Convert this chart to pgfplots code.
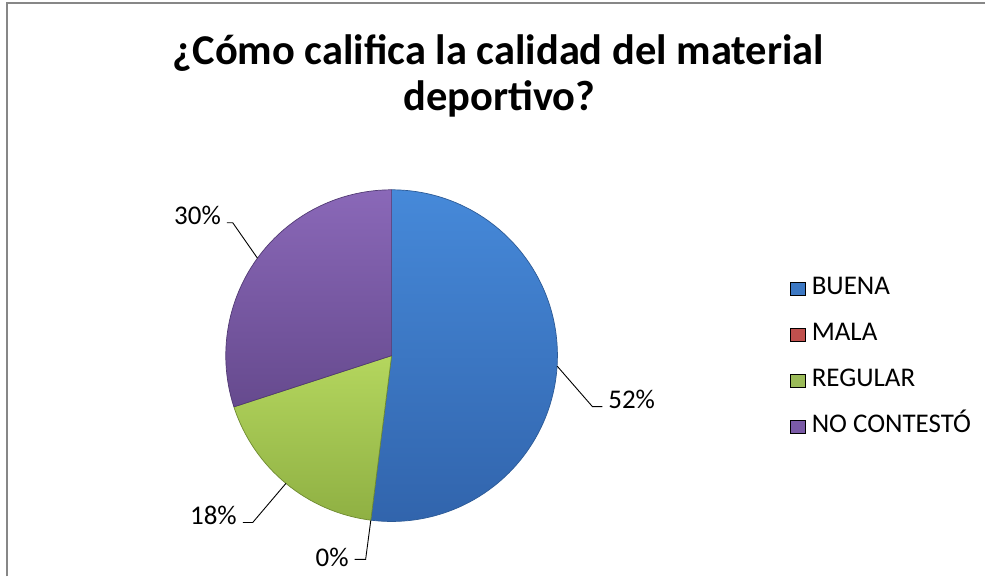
\documentclass[border=0pt]{standalone}
\usepackage{pgfplots}
\usepackage{pgfplotstable}
\usepackage{fontspec}
\setmainfont{Carlito}
\pgfplotsset{compat=1.18}

% slice colours (light top, dark bottom, edge)
\definecolor{pietop0}{HTML}{4689D9}
\definecolor{piebot0}{HTML}{3164AC}
\definecolor{pieedg0}{HTML}{2C5A96}
\definecolor{pietop1}{HTML}{D4605C}
\definecolor{piebot1}{HTML}{A43C39}
\definecolor{pieedg1}{HTML}{8E3431}
\definecolor{pietop2}{HTML}{B4D65E}
\definecolor{piebot2}{HTML}{8FB043}
\definecolor{pieedg2}{HTML}{6E8A30}
\definecolor{pietop3}{HTML}{8A68B8}
\definecolor{piebot3}{HTML}{664A8E}
\definecolor{pieedg3}{HTML}{513A73}
\definecolor{legc0}{HTML}{3C78C3}
\definecolor{legc1}{HTML}{C0504D}
\definecolor{legc2}{HTML}{9BBB59}
\definecolor{legc3}{HTML}{7A5AA6}

% value in %, leader elbow (x,y), end of leader x, text side, text dy
\pgfplotstableread{
name value elbx elby endx side dy
BUENA 52 593 170 603 west -2
MALA 0 366 17 355 east -7
REGULAR 18 253 54 243 east -2
{NO CONTESTÓ} 30 233 354 227 east -2
}\piedata

\newcommand\lblfont{\fontsize{27}{30}\selectfont}
\def\cx{392}\def\cy{221}\def\rr{166}

% build wedges and labels from the table
\gdef\piecmds{}
\gdef\angA{90}
\pgfplotstableforeachcolumnelement{value}\of\piedata\as\val{%
  \pgfmathsetmacro\angB{\angA-3.6*\val}%
  \pgfmathsetmacro\angM{(\angA+\angB)/2}%
  \pgfplotstablegetelem{\pgfplotstablerow}{elbx}\of\piedata\let\ex\pgfplotsretval
  \pgfplotstablegetelem{\pgfplotstablerow}{elby}\of\piedata\let\ey\pgfplotsretval
  \pgfplotstablegetelem{\pgfplotstablerow}{endx}\of\piedata\let\tx\pgfplotsretval
  \pgfplotstablegetelem{\pgfplotstablerow}{side}\of\piedata\let\sd\pgfplotsretval
  \pgfplotstablegetelem{\pgfplotstablerow}{dy}\of\piedata\let\dy\pgfplotsretval
  \ifdim\val pt>0pt
    \xdef\piecmds{\unexpanded\expandafter{\piecmds}%
      \noexpand\shadedraw[top color=pietop\pgfplotstablerow,
        bottom color=piebot\pgfplotstablerow,
        draw=pieedg\pgfplotstablerow, line width=0.7pt, line join=round]
        (axis cs:\cx,\cy) -- ([shift={(\angA:\rr pt)}]axis cs:\cx,\cy)
        arc[start angle=\angA, end angle=\angB, radius=\rr pt] -- cycle;}%
  \fi
  \xdef\piecmds{\unexpanded\expandafter{\piecmds}%
    \noexpand\draw[black, line width=0.9pt]
      ([shift={(\angM:\rr pt)}]axis cs:\cx,\cy) -- (axis cs:\ex,\ey)
      -- (axis cs:\tx,\ey)
      node[anchor=base \sd, inner sep=0pt, yshift=\dy pt, outer xsep=6pt]
      {\noexpand\lblfont\val\noexpand\%};}%
  \xdef\angA{\angB}%
}

\begin{document}
\begin{tikzpicture}
\begin{axis}[
  scale only axis,
  width=986pt, height=577pt,
  xmin=0, xmax=986, ymin=0, ymax=577,
  hide axis,
  clip=false,
  legend image code/.code={\fill[#1] (0pt,-6.5pt) rectangle (15pt,6.5pt);\path (21pt,0pt);},
  legend style={
    at={(axis cs:791,300)}, anchor=north west,
    draw=none, fill=none, inner sep=0pt,
    font=\lblfont, row sep=23pt,
    nodes={inner sep=0pt, text height=18pt, text depth=5pt},
  },
  legend cell align=left,
]
\path (axis cs:0,0) rectangle (axis cs:986,577);
% frame of the chart area (top and left edges visible)
\draw[color=black!47, line width=2pt] (axis cs:7.5,0) -- (axis cs:7.5,573.5) -- (axis cs:986,573.5);

\piecmds

\node[font=\bfseries\fontsize{42.5}{46}\selectfont, anchor=base]
  at (axis cs:499,512) {¿Cómo califica la calidad del material};
\node[font=\bfseries\fontsize{42.5}{46}\selectfont, anchor=base]
  at (axis cs:500,466) {deportivo?};

\addlegendimage{fill=legc0}\addlegendentry{BUENA}
\addlegendimage{fill=legc1}\addlegendentry{MALA}
\addlegendimage{fill=legc2}\addlegendentry{REGULAR}
\addlegendimage{fill=legc3}\addlegendentry{NO CONTESTÓ}
\end{axis}
\end{tikzpicture}
\end{document}
